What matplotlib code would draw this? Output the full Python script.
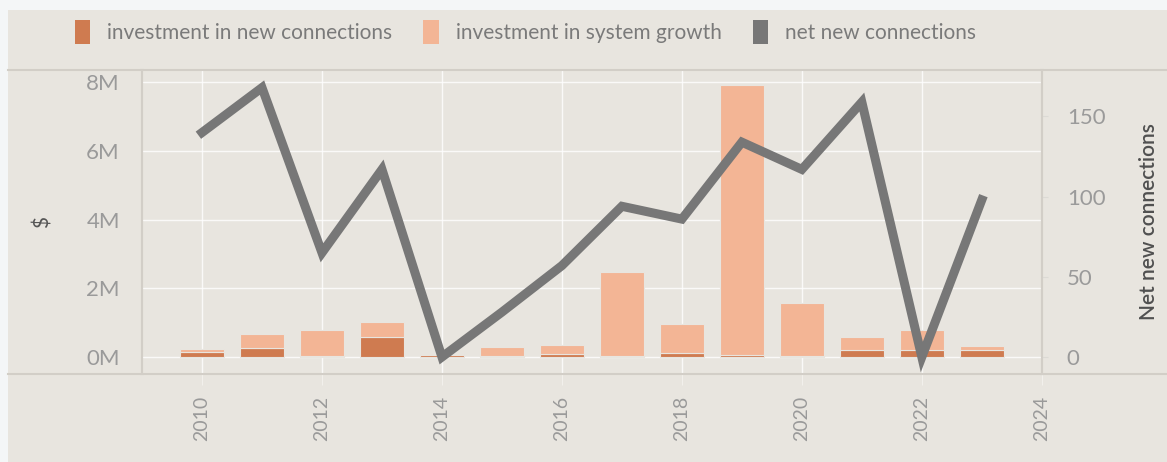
import numpy as np
import matplotlib.pyplot as plt
from matplotlib.patches import Rectangle, Patch
from matplotlib.lines import Line2D

# データ
years = [2010, 2011, 2012, 2013, 2014, 2015, 2016, 2017, 2018, 2019, 2020, 2021, 2022, 2023]
new_conn_invest = [0.15, 0.28, 0.02, 0.60, 0.06, 0.02, 0.08, 0.03, 0.12, 0.05, 0.04, 0.20, 0.20, 0.20]   # M$
growth_invest = [0.08, 0.38, 0.78, 0.42, 0.02, 0.27, 0.27, 2.44, 0.84, 7.85, 1.53, 0.38, 0.58, 0.12]     # M$
net_new_conn = [140, 168, 65, 117, 0, 28, 57, 94, 86, 134, 117, 159, 0, 98]

year_ticks = [2010, 2012, 2014, 2016, 2018, 2020, 2022, 2024]
money_ticks = [0, 2e6, 4e6, 6e6, 8e6]
money_labels = ['0M', '2M', '4M', '6M', '8M']
conn_ticks = [0, 50, 100, 150]

BG = '#e8e5df'
DARK = '#cf7b50'
LIGHT = '#f3b595'
LINE = '#777777'
TXT = '#9a9a9a'
RULE = '#d2cec7'

plt.rcParams['font.family'] = ['Lato', 'DejaVu Sans']

fig = plt.figure(figsize=(11.67, 4.62), dpi=100)
fig.patch.set_facecolor('#f4f6f7')
fig.patches.append(Rectangle((0.007, 0), 0.993, 0.978, transform=fig.transFigure,
                             facecolor=BG, edgecolor='none', zorder=-10))

# 上下の区切り線（全幅）
y_bot = 88 / 462
y_top = 392 / 462
for yy in (y_bot, y_top):
    fig.lines.append(Line2D([0.007, 1.0], [yy, yy], transform=fig.transFigure,
                            color=RULE, linewidth=1.5))

ax = fig.add_axes([0.1217, y_bot, 0.771, y_top - y_bot])
ax.set_facecolor(BG)

x = np.array(years)
nc = np.array(new_conn_invest) * 1e6
gr = np.array(growth_invest) * 1e6
ax.bar(x, nc, width=0.73, color=DARK, edgecolor=BG, linewidth=0.8, zorder=2)
ax.bar(x, gr, bottom=nc, width=0.73, color=LIGHT, edgecolor=BG, linewidth=0.8, zorder=2)

ax.set_xlim(2009, 2024)
ax.set_ylim(-0.49e6, 8.35e6)
ax.set_xticks(year_ticks)
ax.set_xticklabels([str(y) for y in year_ticks], rotation=90, fontsize=14, color=TXT)
ax.set_yticks(money_ticks)
ax.set_yticklabels(money_labels, fontsize=16, color=TXT)
ax.grid(True, color='white', linewidth=1.0, alpha=0.8, zorder=0)
ax.set_axisbelow(True)
ax.tick_params(axis='x', length=8, color='#f2f0ec', pad=8)
ax.tick_params(axis='y', length=0, pad=16)
for side in ['left', 'right', 'bottom', 'top']:
    ax.spines[side].set_color(RULE)
    ax.spines[side].set_linewidth(1.5)
ax.spines['top'].set_visible(False)
ax.spines['bottom'].set_visible(False)
ax.set_ylabel('$', fontsize=15, color='#555555', labelpad=24)

ax2 = ax.twinx()
ax2.plot(x, net_new_conn, color=LINE, linewidth=6.5, solid_joinstyle='miter', zorder=3)
ax2.set_ylim(-10.6, 179)
ax2.set_yticks(conn_ticks)
ax2.set_yticklabels([str(v) for v in conn_ticks], fontsize=16, color=TXT)
ax2.tick_params(axis='y', length=4, color='#dcdad5', pad=14)
for side in ['left', 'right', 'bottom', 'top']:
    ax2.spines[side].set_color(RULE)
    ax2.spines[side].set_linewidth(1.5)
ax2.spines['top'].set_visible(False)
ax2.spines['bottom'].set_visible(False)
ax2.set_ylabel('Net new connections', fontsize=15, color='#505050',
               fontweight='semibold', labelpad=24)

handles = [Patch(facecolor=DARK, label='investment in new connections'),
           Patch(facecolor=LIGHT, label='investment in system growth'),
           Patch(facecolor=LINE, label='net new connections')]
leg = fig.legend(handles=handles, loc='center left', bbox_to_anchor=(0.048, 0.93), ncol=3,
                 frameon=False, fontsize=15, handlelength=0.75, handleheight=1.4,
                 columnspacing=1.5, handletextpad=0.8)
for t in leg.get_texts():
    t.set_color('#7a7a7a')

fig.savefig('out.png', dpi=100, facecolor=fig.get_facecolor())
